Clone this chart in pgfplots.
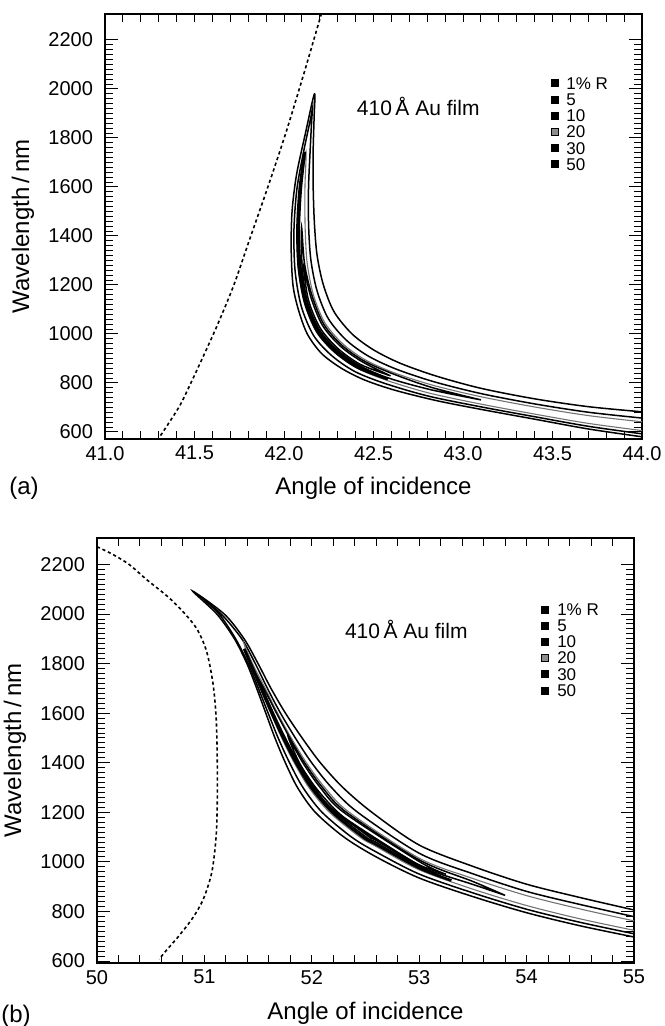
\documentclass[border=0pt]{standalone}
\usepackage{fontspec}
\setmainfont{Liberation Sans}
\usepackage{pgfplots}
\pgfplotsset{compat=1.18}

\pgfplotsset{
  panel/.style={
    scale only axis, width=268.5pt, height=212.5pt, anchor=south west,
    axis line style={line width=0.8pt},
    tick style={black, line width=0.5pt},
    major tick length=6.5pt, minor tick length=3.8pt,
    major x tick style={draw=none},
    ytick={600,800,...,2200}, minor y tick num=9,
    tick label style={font=\fontsize{10}{12}\selectfont},
    yticklabel style={xshift=-2.5pt},
    label style={font=\fontsize{12}{14}\selectfont},
    xlabel={Angle of incidence}, ylabel={Wavelength\,/\,nm},
    ylabel style={at={(axis description cs:-0.153,0.5)}, anchor=center},
    /pgf/number format/1000 sep={},
    /pgf/number format/assume math mode=true,
    legend cell align=left,
    legend style={draw=none, fill=none, font=\fontsize{8.5}{10}\selectfont,
      anchor=north west, inner xsep=0pt, inner ysep=0pt, row sep=0.8pt,
      nodes={inner sep=0.5pt, text height=6.1pt, text depth=0.2pt}},
    legend image code/.code={\fill (0pt,-1.75pt) rectangle (3.5pt,1.75pt); \path (7pt,0pt);},
  },
  loop/.style={black, line width=0.75pt, smooth, tension=0.5, forget plot},
  thin loop/.style={black!55, line width=0.55pt, smooth, tension=0.5, forget plot},
  thick loop/.style={black, line width=1.3pt, smooth, tension=0.5, forget plot},
  guide/.style={black, line width=0.8pt, dash pattern=on 1.6pt off 1.4pt, smooth, forget plot},
}

\begin{document}
\begin{tikzpicture}
\path[use as bounding box] (0,0) rectangle (332pt,-513pt);

% ---------------- (a) ----------------
\begin{axis}[panel, at={(52.5pt,-219.5pt)},
  xmin=41, xmax=44, ymin=571, ymax=2306,
  xtick={41,41.5,...,44}, minor xtick={41,41.1,...,44.05},
  xticklabel style={/pgf/number format/fixed, /pgf/number format/fixed zerofill,
    /pgf/number format/precision=1},
  xlabel style={at={(axis description cs:0.5,-0.115)}, anchor=center},
  legend style={at={(0.829,0.855)}}]

% critical-angle line
\addplot[guide] coordinates {(41.31,585)(41.36,640)(41.42,710)(41.48,800)(41.55,910)
  (41.63,1040)(41.72,1200)(41.81,1390)(41.91,1600)(42.01,1820)(42.11,2060)(42.21,2310)};

% 50 %
\addplot[loop] coordinates {(44,682)(43.7,703)(43.4,735)(43.1,778)(42.85,828)(42.65,880)
  (42.5,935)(42.38,1000)(42.28,1090)(42.22,1200)(42.185,1320)(42.17,1450)(42.163,1600)
  (42.163,1750)(42.168,1880)(42.17,1980)(42.12,1820)(42.07,1650)(42.045,1500)(42.04,1350)
  (42.05,1200)(42.08,1100)(42.13,1000)(42.21,920)(42.32,860)(42.45,812)(42.62,770)
  (42.85,728)(43.1,692)(43.4,652)(43.7,612)(44,580)};
% 30 %
\addplot[loop] coordinates {(44,656.5)(43.7,680.3)(43.4,714.3)(43.1,756.5)(42.8375,804.8)
  (42.625,856.8)(42.47,910)(42.3475,975)(42.2475,1062.5)(42.185,1175)(42.15,1302.5)
  (42.1375,1442.5)(42.137,1597.5)(42.146,1747.5)(42.155,1876)(42.16,1925)(42.147,1873.5)
  (42.109,1742)(42.072,1591.2)(42.0556,1423.6)(42.0618,1258.4)(42.0968,1112)
  (42.1656,993.2)(42.2656,912)(42.3944,847)(42.562,798.2)(42.806,746.2)(43.1,702.3)
  (43.4,662)(43.7,622.9)(44,592.2)};
% 20 %
\addplot[thin loop] coordinates {(44,641.2)(43.7,666.6)(43.4,701.8)(43.1,743.6)(42.83,790.8)
  (42.61,842.8)(42.452,895)(42.328,960)(42.228,1046)(42.164,1160)(42.129,1292)(42.118,1438)
  (42.117,1595.5)(42.123,1745)(42.093,1593.2)(42.0725,1427.5)(42.08,1267.5)(42.115,1125)
  (42.1825,1007.5)(42.2825,925)(42.41,860)(42.575,810.25)(42.8125,758.25)(43.1,713.5)
  (43.4,672.75)(43.7,634.75)(44,605.5)};
% 10 %
\addplot[loop] coordinates {(43.1,730.7)(42.825,781.5)(42.605,838.15)(42.446,890)
  (42.3215,955)(42.2215,1040.5)(42.157,1155)(42.115,1285)(42.0985,1433.5)(42.101,1278)
  (42.129,1135)(42.1955,1018.5)(42.2955,935)(42.422,870)(42.585,819.55)(42.82,772.2)
  (43.1,730.7)};
% 5 %
\addplot[loop] coordinates {(42.595,828.9)(42.44,885)(42.315,950)(42.215,1035)(42.15,1150)
  (42.108,1281.5)(42.136,1140)(42.202,1024)(42.302,940)(42.428,875)(42.595,828.9)};
% 1 %
\addplot[thick loop] coordinates {(42.58,814.9)(42.4196,868)(42.2929,933)(42.1929,1016.3)
  (42.1262,1133)(42.0912,1273.1)(42.0829,1429.9)(42.094,1593.3)(42.116,1743)
  (42.0878,1592.7)(42.0751,1428.1)(42.0828,1268.9)(42.1178,1127)(42.1851,1009.7)
  (42.2851,927)(42.4124,862)(42.58,814.9)};

\node[font=\fontsize{10.5}{12}\selectfont] at (axis cs:42.75,1930) {410\,Å Au film};

\addlegendimage{fill=black}\addlegendentry{1\% R}
\addlegendimage{fill=black}\addlegendentry{5}
\addlegendimage{fill=black}\addlegendentry{10}
\addlegendimage{fill=black!45}\addlegendentry{20}
\addlegendimage{fill=black}\addlegendentry{30}
\addlegendimage{fill=black}\addlegendentry{50}
\end{axis}
\node[font=\fontsize{12}{14}\selectfont] at (12pt,-244pt) {(a)};

% ---------------- (b) ----------------
\begin{axis}[panel, at={(48.5pt,-481.5pt)},
  xmin=50, xmax=55, ymin=592, ymax=2307,
  xtick={50,51,...,55}, minor xtick={50,50.2,...,55.05},
  xlabel style={at={(axis description cs:0.5,-0.118)}, anchor=center},
  legend style={at={(0.827,0.85)}}]

\addplot[guide] coordinates {(50.0,2272)(50.15,2240)(50.3,2200)(50.46,2140)(50.66,2070)
  (50.8,2010)(50.93,1940)(51.02,1850)(51.08,1720)(51.11,1577)(51.12,1400)(51.12,1250)
  (51.11,1107)(51.07,960)(50.99,850)(50.89,773)(50.76,700)(50.64,640)(50.58,608)};

% 50 %
\addplot[loop] coordinates {(55,806)(54.5,856)(54.0,910)(53.5,982)(53.0,1068)(52.56,1200)
  (52.29,1300)(52.08,1400)(51.91,1500)(51.755,1600)(51.62,1700)(51.50,1800)(51.37,1900)
  (51.185,2000)(50.89,2093)(51.116,2000)(51.28,1900)(51.396,1800)(51.487,1700)(51.572,1600)
  (51.657,1500)(51.754,1400)(51.867,1300)(52.033,1200)(52.3,1100)(52.6,1020)(53.0,935)
  (53.5,860)(54.0,795)(54.5,742)(55,697)};
% 30 %
\addplot[loop] coordinates {(55,779)(54.5,828)(54.0,881)(53.5,952)(53.0,1035)(52.428,1200)
  (52.184,1300)(51.999,1400)(51.847,1500)(51.709,1600)(51.587,1700)(51.474,1800)
  (51.348,1900)(51.157,2000)(50.95,2075)(51.137,2000)(51.291,1900)(51.408,1800)
  (51.503,1700)(51.594,1600)(51.687,1500)(51.793,1400)(51.918,1300)(52.096,1200)
  (52.371,1100)(52.6,1040)(53.0,951)(53.5,875)(54.0,809)(54.5,756)(55,710)};
% 20 %
\addplot[thin loop] coordinates {(55,762)(54.5,810)(54.0,864)(53.5,933)(53.0,1015)
  (52.349,1200)(52.121,1300)(51.95,1400)(51.809,1500)(51.682,1600)(51.567,1700)
  (51.448,1800)(51.37,1880)(51.432,1800)(51.52,1700)(51.618,1600)(51.72,1500)(51.836,1400)
  (51.973,1300)(52.165,1200)(52.448,1100)(52.6,1062)(53.0,968)(53.5,890)(54.0,824)
  (54.5,770)(55,724)};
% 10 %
\addplot[loop] coordinates {(53.8,865)(53.5,921)(53.0,1008)(52.323,1200)(52.1,1300)
  (51.933,1400)(51.796,1500)(51.672,1600)(51.554,1700)(51.45,1780)(51.538,1700)
  (51.636,1600)(51.746,1500)(51.868,1400)(52.015,1300)(52.217,1200)(52.507,1100)
  (52.6,1079)(53.0,981.5)(53.5,909)(53.8,865)};
% 5 %
\addplot[loop] coordinates {(53.25,950)(53.0,1001.5)(52.297,1200)(52.079,1300)(51.917,1400)
  (51.78,1505)(51.884,1400)(52.036,1300)(52.244,1200)(52.536,1100)(52.6,1087)(53.0,988)
  (53.25,950)};
% 1 %
\addplot[thick loop] coordinates {(53.3,925)(53.0,983)(52.223,1200)(52.019,1300)
  (51.871,1400)(51.748,1500)(51.638,1600)(51.535,1700)(51.433,1800)(51.37,1860)
  (51.427,1800)(51.527,1700)(51.627,1600)(51.733,1500)(51.852,1400)(51.994,1300)
  (52.191,1200)(52.477,1100)(52.6,1070)(53.0,975)(53.3,925)};

\node[font=\fontsize{10.5}{12}\selectfont] at (axis cs:52.88,1940) {410\,Å Au film};

\addlegendimage{fill=black}\addlegendentry{1\% R}
\addlegendimage{fill=black}\addlegendentry{5}
\addlegendimage{fill=black}\addlegendentry{10}
\addlegendimage{fill=black!45}\addlegendentry{20}
\addlegendimage{fill=black}\addlegendentry{30}
\addlegendimage{fill=black}\addlegendentry{50}
\end{axis}
\node[font=\fontsize{12}{14}\selectfont] at (8pt,-508pt) {(b)};
\end{tikzpicture}
\end{document}
